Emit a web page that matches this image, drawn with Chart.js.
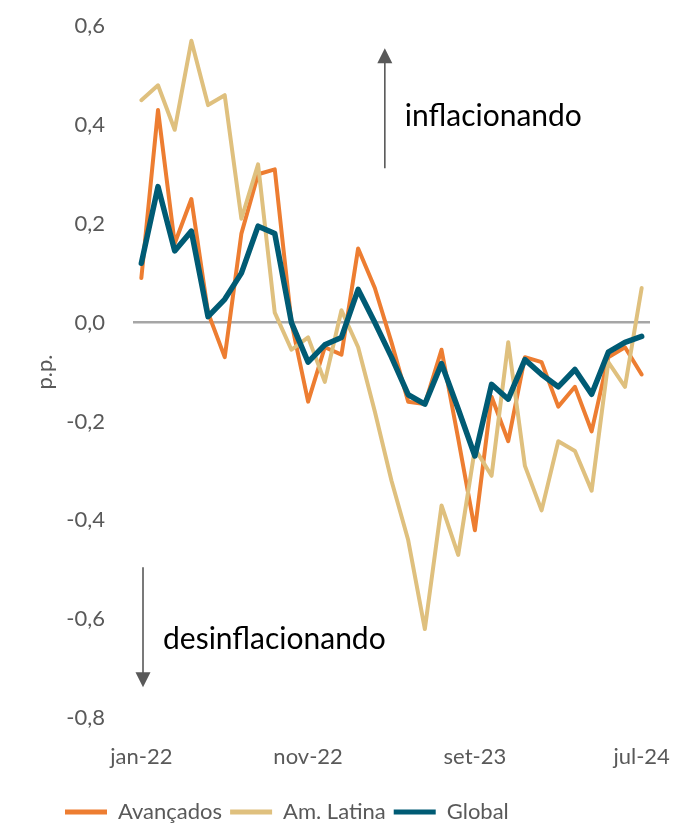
<!DOCTYPE html>
<html lang="pt">
<head>
<meta charset="utf-8">
<script src="https://cdn.jsdelivr.net/npm/chart.js@4.4.1/dist/chart.umd.min.js"></script>
<style>
html,body{margin:0;padding:0;background:#fff;}
</style>
</head>
<body>
<canvas id="chart" width="679" height="826"></canvas>
<script>
// meses de jan-22 a jul-24
const labels = [
  "jan-22","fev-22","mar-22","abr-22","mai-22","jun-22","jul-22","ago-22","set-22","out-22","nov-22","dez-22",
  "jan-23","fev-23","mar-23","abr-23","mai-23","jun-23","jul-23","ago-23","set-23","out-23","nov-23","dez-23",
  "jan-24","fev-24","mar-24","abr-24","mai-24","jun-24","jul-24"
];
const avancados = [0.09, 0.43, 0.16, 0.25, 0.02, -0.07, 0.18, 0.30, 0.31, 0.00, -0.16, -0.05, -0.065, 0.15, 0.07, -0.04,
  -0.16, -0.165, -0.055, -0.235, -0.42, -0.15, -0.24, -0.07, -0.08, -0.17, -0.13, -0.22, -0.07, -0.05, -0.105];
const amLatina = [0.45, 0.48, 0.39, 0.57, 0.44, 0.46, 0.21, 0.32, 0.02, -0.055, -0.03, -0.12, 0.025, -0.05, -0.18, -0.32,
  -0.44, -0.62, -0.37, -0.47, -0.255, -0.31, -0.04, -0.29, -0.38, -0.24, -0.26, -0.34, -0.08, -0.13, 0.07];
const global = [0.12, 0.275, 0.145, 0.185, 0.012, 0.047, 0.10, 0.195, 0.18, 0.0, -0.08, -0.045, -0.03, 0.067, 0.0, -0.07,
  -0.146, -0.165, -0.083, -0.175, -0.27, -0.125, -0.155, -0.075, -0.105, -0.13, -0.095, -0.145, -0.06, -0.04, -0.028];
const xTickIdx = [0, 10, 20, 30];

const fonte = "Lato, 'Open Sans', sans-serif";
const cinza = "#595959";

// setas e textos "inflacionando" / "desinflacionando"
const setas = {
  id: "setas",
  afterLayout(chart){
    const lg = chart.legend;
    const p = lg.options.labels.padding;
    lg.left = 65 - p;
    lg.top = 812 - p - 11;
  },
  afterDatasetsDraw(chart){
    const {ctx, scales:{x, y}} = chart;
    function seta(xi, y0, y1){
      const px = x.getPixelForValue(xi);
      const a = y.getPixelForValue(y0), b = y.getPixelForValue(y1);
      const dir = b < a ? 1 : -1;
      ctx.save();
      ctx.strokeStyle = cinza;
      ctx.fillStyle = cinza;
      ctx.lineWidth = 1.6;
      ctx.beginPath();
      ctx.moveTo(px, a);
      ctx.lineTo(px, b + dir*12);
      ctx.stroke();
      ctx.beginPath();
      ctx.moveTo(px, b);
      ctx.lineTo(px - 7.5, b + dir*15);
      ctx.lineTo(px + 7.5, b + dir*15);
      ctx.closePath();
      ctx.fill();
      ctx.restore();
    }
    function texto(t, xi, yv){
      ctx.save();
      ctx.font = "30px " + fonte;
      ctx.fillStyle = "#000";
      ctx.textBaseline = "alphabetic";
      ctx.textAlign = "left";
      ctx.fillText(t, x.getPixelForValue(xi), y.getPixelForValue(yv));
      ctx.restore();
    }
    seta(14.6, 0.312, 0.555);
    texto("inflacionando", 15.8, 0.397);
    seta(0.1, -0.495, -0.738);
    texto("desinflacionando", 1.3, -0.66);
  }
};

new Chart(document.getElementById("chart"), {
  type: "line",
  data: {
    labels: labels,
    datasets: [
      {label: "Avançados", data: avancados, borderColor: "#ED7D31", backgroundColor: "#ED7D31", borderWidth: 4, order: 3},
      {label: "Am. Latina", data: amLatina, borderColor: "#DFC07E", backgroundColor: "#DFC07E", borderWidth: 4, order: 2},
      {label: "Global", data: global, borderColor: "#005B74", backgroundColor: "#005B74", borderWidth: 5.5, order: 1}
    ]
  },
  options: {
    responsive: false,
    animation: false,
    elements: {
      line: {tension: 0, borderCapStyle: "round", borderJoinStyle: "round"},
      point: {radius: 0}
    },
    layout: {padding: {top: 26, right: 29, left: 0, bottom: 0}},
    plugins: {
      tooltip: {enabled: false},
      legend: {
        position: "bottom",
        align: "start",
        labels: {
          boxWidth: 42,
          boxHeight: 5,
          padding: 8,
          color: cinza,
          font: {family: fonte, size: 22},
          sort: (a, b) => a.datasetIndex - b.datasetIndex,
          generateLabels(chart){
            return Chart.defaults.plugins.legend.labels.generateLabels(chart).map(l => {
              l.lineWidth = 0;
              l.fillStyle = l.strokeStyle;
              return l;
            });
          }
        }
      }
    },
    scales: {
      x: {
        offset: true,
        grid: {display: false},
        border: {display: false},
        afterFit(s){ s.height = 68; s.paddingLeft = 0; s.paddingRight = 0; },
        ticks: {
          autoSkip: false,
          maxRotation: 0,
          padding: 18,
          color: cinza,
          font: {family: fonte, size: 22},
          callback(v, i){ return xTickIdx.includes(i) ? labels[i] : null; }
        }
      },
      y: {
        min: -0.8,
        max: 0.6,
        afterFit(s){ s.width = 133; s.paddingTop = 0; s.paddingBottom = 0; },
        border: {display: false},
        grid: {
          drawTicks: false,
          lineWidth: 2.5,
          color: c => Math.abs(c.tick.value) < 1e-9 ? "#A6A6A6" : "rgba(0,0,0,0)"
        },
        ticks: {
          stepSize: 0.2,
          padding: 28,
          color: cinza,
          font: {family: fonte, size: 22},
          callback: v => (Math.abs(v) < 1e-9 ? 0 : v).toFixed(1).replace(".", ",")
        },
        title: {
          display: true,
          text: "p.p.",
          color: cinza,
          font: {family: fonte, size: 22},
          padding: {top: 32, bottom: 0}
        }
      }
    }
  },
  plugins: [setas]
});
</script>
</body>
</html>
